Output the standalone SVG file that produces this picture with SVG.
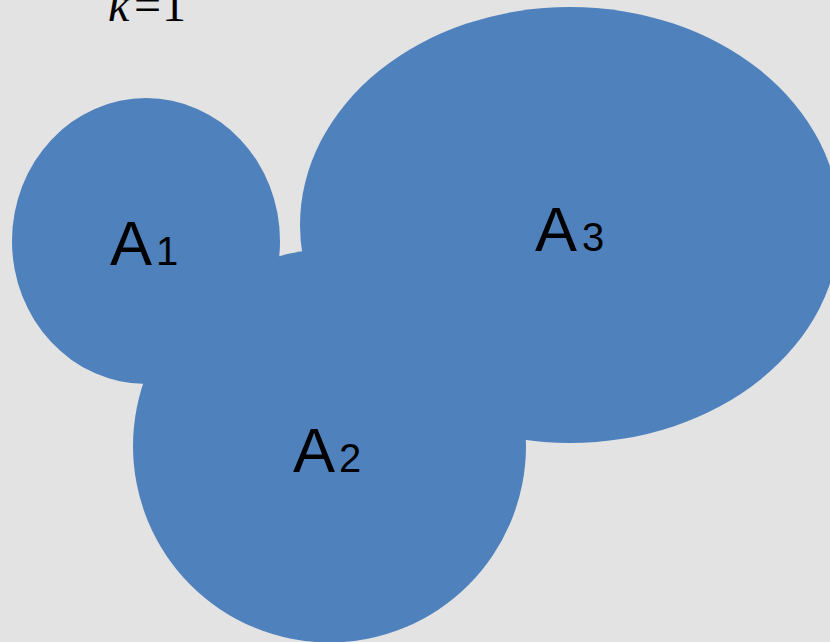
<svg xmlns="http://www.w3.org/2000/svg" width="830" height="642" viewBox="0 0 830 642">
<style>
.blob{fill:#4f81bd;}
.lab{font-family:"Liberation Sans",Arial,sans-serif;fill:#000;font-size:63px;}
.sub{font-size:40px;}
.k{font-family:"Liberation Serif","Times New Roman",serif;font-size:48px;fill:#000;}
</style>
<rect width="830" height="642" fill="#e3e3e3"/>
<g id="shapes">
<g id="A2-shape"><circle class="blob" cx="329.5" cy="446" r="196.5"/></g>
<g id="A3-shape"><ellipse class="blob" cx="570" cy="225" rx="270" ry="218"/></g>
<g id="A1-shape"><ellipse class="blob" cx="146" cy="241" rx="134" ry="143"/></g>
</g>
<g id="connectors"></g>
<g id="labels">
<g id="A1"><text class="lab" x="110" y="265">A<tspan class="sub" x="156">1</tspan></text></g>
<g id="A2"><text class="lab" x="293" y="472">A<tspan class="sub" x="339">2</tspan></text></g>
<g id="A3"><text class="lab" x="535" y="251">A<tspan class="sub" x="582">3</tspan></text></g>
</g>
<g id="title"><text class="k" y="21"><tspan x="108" font-style="italic">k</tspan><tspan x="134">=</tspan><tspan x="162">1</tspan></text></g>
</svg>
